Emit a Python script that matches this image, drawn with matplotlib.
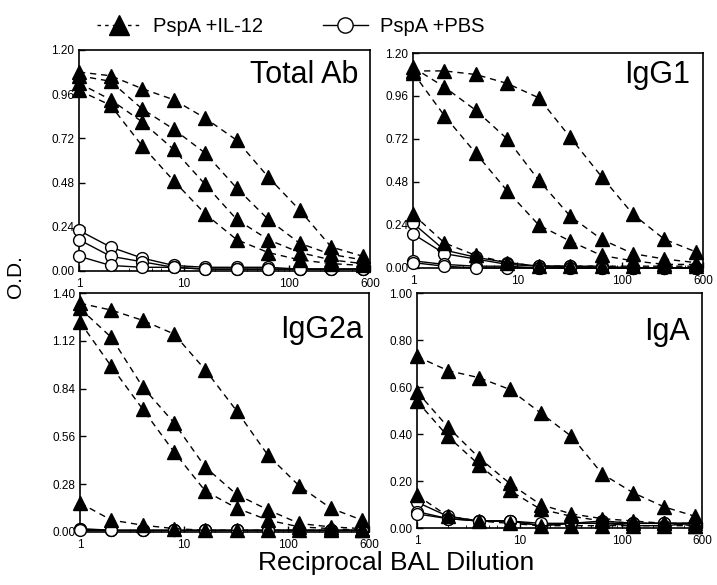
import matplotlib
matplotlib.use('Agg')
import matplotlib.pyplot as plt
from matplotlib.lines import Line2D

plt.rcParams['font.family'] = ['Liberation Sans', 'DejaVu Sans']

dil = [1, 2, 4, 8, 16, 32, 64, 128, 256, 512]

# Total Ab
tot_il12 = [
    [1.08, 1.06, 0.99, 0.93, 0.83, 0.71, 0.51, 0.33, 0.13, 0.08],
    [1.06, 1.03, 0.88, 0.77, 0.64, 0.45, 0.28, 0.15, 0.09, 0.06],
    [1.02, 0.93, 0.81, 0.66, 0.47, 0.28, 0.17, 0.10, 0.06, 0.04],
    [0.98, 0.90, 0.68, 0.49, 0.31, 0.17, 0.10, 0.06, 0.04, 0.03],
]
tot_pbs = [
    [0.22, 0.13, 0.07, 0.03, 0.02, 0.02, 0.02, 0.01, 0.01, 0.01],
    [0.17, 0.08, 0.05, 0.02, 0.01, 0.01, 0.01, 0.01, 0.01, 0.01],
    [0.08, 0.03, 0.02, 0.02, 0.01, 0.01, 0.01, 0.01, 0.01, 0.01],
]

# IgG1
g1_il12 = [
    [1.10, 1.10, 1.08, 1.03, 0.95, 0.73, 0.51, 0.30, 0.16, 0.09],
    [1.12, 1.01, 0.88, 0.72, 0.49, 0.29, 0.16, 0.08, 0.05, 0.03],
    [1.09, 0.85, 0.64, 0.43, 0.24, 0.15, 0.07, 0.04, 0.02, 0.02],
    [0.30, 0.14, 0.07, 0.03, 0.01, 0.01, 0.01, 0.01, 0.01, 0.01],
]
g1_pbs = [
    [0.25, 0.10, 0.06, 0.03, 0.01, 0.01, 0.01, 0.00, 0.00, 0.00],
    [0.19, 0.08, 0.05, 0.02, 0.01, 0.01, 0.00, 0.00, 0.00, 0.00],
    [0.04, 0.02, 0.01, 0.01, 0.00, 0.00, 0.00, 0.00, 0.00, 0.00],
    [0.03, 0.01, 0.00, 0.00, 0.00, 0.00, 0.00, 0.00, 0.00, 0.00],
]

# IgG2a
g2a_il12 = [
    [1.34, 1.30, 1.24, 1.16, 0.95, 0.71, 0.45, 0.27, 0.14, 0.07],
    [1.31, 1.14, 0.85, 0.64, 0.38, 0.22, 0.13, 0.05, 0.03, 0.02],
    [1.23, 0.97, 0.72, 0.47, 0.24, 0.14, 0.07, 0.03, 0.02, 0.01],
    [0.17, 0.07, 0.04, 0.02, 0.01, 0.01, 0.01, 0.01, 0.01, 0.01],
]
g2a_pbs = [
    [0.02, 0.01, 0.01, 0.01, 0.01, 0.01, 0.01, 0.01, 0.01, 0.01],
    [0.015, 0.01, 0.01, 0.01, 0.01, 0.01, 0.01, 0.01, 0.01, 0.01],
    [0.01, 0.01, 0.01, 0.01, 0.01, 0.01, 0.01, 0.01, 0.01, 0.01],
]

# IgA
iga_il12 = [
    [0.73, 0.67, 0.64, 0.59, 0.49, 0.39, 0.23, 0.15, 0.09, 0.05],
    [0.58, 0.43, 0.30, 0.19, 0.10, 0.06, 0.04, 0.03, 0.02, 0.02],
    [0.54, 0.39, 0.27, 0.16, 0.08, 0.05, 0.03, 0.02, 0.02, 0.01],
    [0.14, 0.05, 0.03, 0.02, 0.01, 0.01, 0.01, 0.01, 0.01, 0.01],
]
iga_pbs = [
    [0.11, 0.05, 0.03, 0.03, 0.01, 0.02, 0.03, 0.02, 0.02, 0.02],
    [0.07, 0.04, 0.03, 0.03, 0.01, 0.02, 0.02, 0.02, 0.02, 0.02],
    [0.06, 0.04, 0.03, 0.03, 0.02, 0.02, 0.02, 0.01, 0.01, 0.02],
]

panels = [
    ('Total Ab', tot_il12, tot_pbs, [0, 0.24, 0.48, 0.72, 0.96, 1.20],
     [0.1102, 0.5368, 0.4059, 0.3778], (0.959, 0.85)),
    ('IgG1', g1_il12, g1_pbs, [0, 0.24, 0.48, 0.72, 0.96, 1.20],
     [0.576, 0.5419, 0.4045, 0.3675], (0.955, 0.86)),
    ('IgG2a', g2a_il12, g2a_pbs, [0, 0.28, 0.56, 0.84, 1.12, 1.40],
     [0.1116, 0.0906, 0.4031, 0.4085], (0.979, 0.81)),
    ('IgA', iga_il12, iga_pbs, [0, 0.20, 0.40, 0.60, 0.80, 1.00],
     [0.5816, 0.0974, 0.3975, 0.4017], (0.958, 0.80)),
]

fig = plt.figure(figsize=(7.17, 5.85), dpi=100)

for name, il12, pbs, yt, pos, tpos in panels:
    ax = fig.add_axes(pos)
    for s in pbs:
        ax.plot(dil, s, '-', color='black', lw=1, marker='o', ms=8.5,
                mfc='white', mec='black', mew=1, clip_on=False, zorder=3)
    for s in il12:
        ax.plot(dil, s, '--', color='black', lw=1, dashes=(4.5, 3.5),
                marker='^', ms=9.5, mfc='black', mec='black',
                clip_on=False, zorder=4)
    ax.set_xscale('log')
    ax.set_xlim(1, 600)
    ax.set_ylim(0, yt[-1])
    ax.set_xticks([1, 10, 100, 600])
    ax.set_xticklabels(['1', '10', '100', '600'])
    ax.set_yticks(yt)
    ax.set_yticklabels(['%.2f' % v for v in yt])
    ax.tick_params(direction='in', labelsize=8.5, length=4, width=1)
    ax.tick_params(axis='x', which='minor', direction='in', length=2.5)
    ax.tick_params(axis='x', pad=5)
    for sp in ax.spines.values():
        sp.set_linewidth(1.2)
    ax.text(tpos[0], tpos[1], name, transform=ax.transAxes, ha='right',
            va='baseline', fontsize=22)

fig.text(0.021, 0.528, 'O.D.', rotation=90, ha='center', va='center',
         fontsize=15)
fig.text(0.553, 0.026, 'Reciprocal BAL Dilution', ha='center', va='baseline',
         fontsize=19)

handles = [
    Line2D([], [], ls='--', dashes=(2.5, 3), color='black', lw=1, marker='^',
           ms=14, mfc='black'),
    Line2D([], [], ls='-', color='black', lw=1, marker='o', ms=11,
           mfc='white'),
]
fig.legend(handles, ['PspA +IL-12', 'PspA +PBS'], loc='center',
           bbox_to_anchor=(0.405, 0.955), ncol=2, frameon=False, fontsize=14.5,
           handlelength=2.2, columnspacing=3.0, handletextpad=0.6)

fig.savefig('out.png', dpi=100)
